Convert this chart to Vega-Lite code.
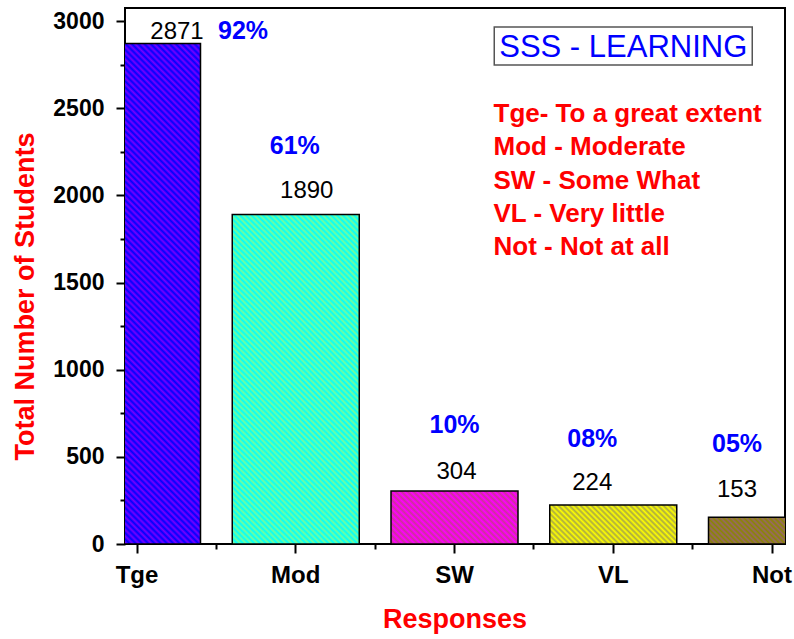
{
  "$schema": "https://vega.github.io/schema/vega-lite/v6.json",
  "width": 660,
  "height": 536,
  "autosize": {"type": "none"},
  "padding": {"left": 125, "top": 8, "right": 9, "bottom": 95},
  "background": "white",
  "config": {
    "view": {"stroke": "black", "strokeWidth": 2},
    "font": "Liberation Sans",
    "axis": {"grid": false}
  },
  "data": {
    "values": [
      {"r": "Tge", "n": 2871, "p": "92%"},
      {"r": "Mod", "n": 1890, "p": "61%"},
      {"r": "SW", "n": 304, "p": "10%"},
      {"r": "VL", "n": 224, "p": "08%"},
      {"r": "Not", "n": 153, "p": "05%"}
    ]
  },
  "resolve": {"axis": {"x": "independent", "y": "independent"}},
  "layer": [
    {
      "transform": [{"filter": "datum.r === 'Tge'"}],
      "mark": {"type": "bar", "clip": true, "stroke": "black", "strokeWidth": 1.5,
        "fill": {"gradient": "linear", "x1": 0, "y1": 1, "x2": 0.299, "y2": -0.178, "stops": [
{"offset":0,"color":"#00f"},{"offset":0.005,"color":"#70f"},{"offset":0.01,"color":"#00f"},{"offset":0.015,"color":"#70f"},{"offset":0.02,"color":"#00f"},{"offset":0.025,"color":"#70f"},{"offset":0.03,"color":"#00f"},{"offset":0.035,"color":"#70f"},{"offset":0.04,"color":"#00f"},{"offset":0.045,"color":"#70f"},{"offset":0.05,"color":"#00f"},{"offset":0.055,"color":"#70f"},{"offset":0.06,"color":"#00f"},{"offset":0.065,"color":"#70f"},{"offset":0.07,"color":"#00f"},{"offset":0.075,"color":"#70f"},{"offset":0.08,"color":"#00f"},{"offset":0.085,"color":"#70f"},{"offset":0.09,"color":"#00f"},{"offset":0.095,"color":"#70f"},
{"offset":0.1,"color":"#00f"},{"offset":0.105,"color":"#70f"},{"offset":0.11,"color":"#00f"},{"offset":0.115,"color":"#70f"},{"offset":0.12,"color":"#00f"},{"offset":0.125,"color":"#70f"},{"offset":0.13,"color":"#00f"},{"offset":0.135,"color":"#70f"},{"offset":0.14,"color":"#00f"},{"offset":0.145,"color":"#70f"},{"offset":0.15,"color":"#00f"},{"offset":0.155,"color":"#70f"},{"offset":0.16,"color":"#00f"},{"offset":0.165,"color":"#70f"},{"offset":0.17,"color":"#00f"},{"offset":0.175,"color":"#70f"},{"offset":0.18,"color":"#00f"},{"offset":0.185,"color":"#70f"},{"offset":0.19,"color":"#00f"},{"offset":0.195,"color":"#70f"},
{"offset":0.2,"color":"#00f"},{"offset":0.205,"color":"#70f"},{"offset":0.21,"color":"#00f"},{"offset":0.215,"color":"#70f"},{"offset":0.22,"color":"#00f"},{"offset":0.225,"color":"#70f"},{"offset":0.23,"color":"#00f"},{"offset":0.235,"color":"#70f"},{"offset":0.24,"color":"#00f"},{"offset":0.245,"color":"#70f"},{"offset":0.25,"color":"#00f"},{"offset":0.255,"color":"#70f"},{"offset":0.26,"color":"#00f"},{"offset":0.265,"color":"#70f"},{"offset":0.27,"color":"#00f"},{"offset":0.275,"color":"#70f"},{"offset":0.28,"color":"#00f"},{"offset":0.285,"color":"#70f"},{"offset":0.29,"color":"#00f"},{"offset":0.295,"color":"#70f"},
{"offset":0.3,"color":"#00f"},{"offset":0.305,"color":"#70f"},{"offset":0.31,"color":"#00f"},{"offset":0.315,"color":"#70f"},{"offset":0.32,"color":"#00f"},{"offset":0.325,"color":"#70f"},{"offset":0.33,"color":"#00f"},{"offset":0.335,"color":"#70f"},{"offset":0.34,"color":"#00f"},{"offset":0.345,"color":"#70f"},{"offset":0.35,"color":"#00f"},{"offset":0.355,"color":"#70f"},{"offset":0.36,"color":"#00f"},{"offset":0.365,"color":"#70f"},{"offset":0.37,"color":"#00f"},{"offset":0.375,"color":"#70f"},{"offset":0.38,"color":"#00f"},{"offset":0.385,"color":"#70f"},{"offset":0.39,"color":"#00f"},{"offset":0.395,"color":"#70f"},
{"offset":0.4,"color":"#00f"},{"offset":0.405,"color":"#70f"},{"offset":0.41,"color":"#00f"},{"offset":0.415,"color":"#70f"},{"offset":0.42,"color":"#00f"},{"offset":0.425,"color":"#70f"},{"offset":0.43,"color":"#00f"},{"offset":0.435,"color":"#70f"},{"offset":0.44,"color":"#00f"},{"offset":0.445,"color":"#70f"},{"offset":0.45,"color":"#00f"},{"offset":0.455,"color":"#70f"},{"offset":0.46,"color":"#00f"},{"offset":0.465,"color":"#70f"},{"offset":0.47,"color":"#00f"},{"offset":0.475,"color":"#70f"},{"offset":0.48,"color":"#00f"},{"offset":0.485,"color":"#70f"},{"offset":0.49,"color":"#00f"},{"offset":0.495,"color":"#70f"},
{"offset":0.5,"color":"#00f"},{"offset":0.505,"color":"#70f"},{"offset":0.51,"color":"#00f"},{"offset":0.515,"color":"#70f"},{"offset":0.52,"color":"#00f"},{"offset":0.525,"color":"#70f"},{"offset":0.53,"color":"#00f"},{"offset":0.535,"color":"#70f"},{"offset":0.54,"color":"#00f"},{"offset":0.545,"color":"#70f"},{"offset":0.55,"color":"#00f"},{"offset":0.555,"color":"#70f"},{"offset":0.56,"color":"#00f"},{"offset":0.565,"color":"#70f"},{"offset":0.57,"color":"#00f"},{"offset":0.575,"color":"#70f"},{"offset":0.58,"color":"#00f"},{"offset":0.585,"color":"#70f"},{"offset":0.59,"color":"#00f"},{"offset":0.595,"color":"#70f"},
{"offset":0.6,"color":"#00f"},{"offset":0.605,"color":"#70f"},{"offset":0.61,"color":"#00f"},{"offset":0.615,"color":"#70f"},{"offset":0.62,"color":"#00f"},{"offset":0.625,"color":"#70f"},{"offset":0.63,"color":"#00f"},{"offset":0.635,"color":"#70f"},{"offset":0.64,"color":"#00f"},{"offset":0.645,"color":"#70f"},{"offset":0.65,"color":"#00f"},{"offset":0.655,"color":"#70f"},{"offset":0.66,"color":"#00f"},{"offset":0.665,"color":"#70f"},{"offset":0.67,"color":"#00f"},{"offset":0.675,"color":"#70f"},{"offset":0.68,"color":"#00f"},{"offset":0.685,"color":"#70f"},{"offset":0.69,"color":"#00f"},{"offset":0.695,"color":"#70f"},
{"offset":0.7,"color":"#00f"},{"offset":0.705,"color":"#70f"},{"offset":0.71,"color":"#00f"},{"offset":0.715,"color":"#70f"},{"offset":0.72,"color":"#00f"},{"offset":0.725,"color":"#70f"},{"offset":0.73,"color":"#00f"},{"offset":0.735,"color":"#70f"},{"offset":0.74,"color":"#00f"},{"offset":0.745,"color":"#70f"},{"offset":0.75,"color":"#00f"},{"offset":0.755,"color":"#70f"},{"offset":0.76,"color":"#00f"},{"offset":0.765,"color":"#70f"},{"offset":0.77,"color":"#00f"},{"offset":0.775,"color":"#70f"},{"offset":0.78,"color":"#00f"},{"offset":0.785,"color":"#70f"},{"offset":0.79,"color":"#00f"},{"offset":0.795,"color":"#70f"},
{"offset":0.8,"color":"#00f"},{"offset":0.805,"color":"#70f"},{"offset":0.81,"color":"#00f"},{"offset":0.815,"color":"#70f"},{"offset":0.82,"color":"#00f"},{"offset":0.825,"color":"#70f"},{"offset":0.83,"color":"#00f"},{"offset":0.835,"color":"#70f"},{"offset":0.84,"color":"#00f"},{"offset":0.845,"color":"#70f"},{"offset":0.85,"color":"#00f"},{"offset":0.855,"color":"#70f"},{"offset":0.86,"color":"#00f"},{"offset":0.865,"color":"#70f"},{"offset":0.87,"color":"#00f"},{"offset":0.875,"color":"#70f"},{"offset":0.88,"color":"#00f"},{"offset":0.885,"color":"#70f"},{"offset":0.89,"color":"#00f"},{"offset":0.895,"color":"#70f"},
{"offset":0.9,"color":"#00f"},{"offset":0.905,"color":"#70f"},{"offset":0.91,"color":"#00f"},{"offset":0.915,"color":"#70f"},{"offset":0.92,"color":"#00f"},{"offset":0.925,"color":"#70f"},{"offset":0.93,"color":"#00f"},{"offset":0.935,"color":"#70f"},{"offset":0.94,"color":"#00f"},{"offset":0.945,"color":"#70f"},{"offset":0.95,"color":"#00f"},{"offset":0.955,"color":"#70f"},{"offset":0.96,"color":"#00f"},{"offset":0.965,"color":"#70f"},{"offset":0.97,"color":"#00f"},{"offset":0.975,"color":"#70f"},{"offset":0.98,"color":"#00f"},{"offset":0.985,"color":"#70f"},{"offset":0.99,"color":"#00f"},{"offset":0.995,"color":"#70f"},
{"offset":1,"color":"#00f"}]}},
      "encoding": {
        "x": {
          "field": "r", "type": "nominal", "sort": null,
          "scale": {"domain": ["Tge", "Mod", "SW", "VL", "Not"], "range": [-51.5, 710.5], "paddingInner": 0.2, "paddingOuter": 0},
          "axis": {
            "domain": false, "labelAngle": 0, "labelFont": "Liberation Sans", "labelFontWeight": "bold", "labelFontSize": 24, "labelColor": "black",
            "tickColor": "black", "tickWidth": 2, "tickSize": 9, "labelPadding": 10, "values": ["Tge", "Mod", "SW", "VL", "Not"],
            "title": "Responses", "titleColor": "#ff0000", "titleFont": "Liberation Sans", "titleFontSize": 27, "titleFontWeight": "bold",
            "titleY": 83, "titleBaseline": "alphabetic"
          }
        },
        "y": {
          "field": "n", "type": "quantitative",
          "scale": {"domain": [0, 3075], "nice": false, "zero": true},
          "axis": {
            "domain": false, "values": [0, 500, 1000, 1500, 2000, 2500, 3000], "format": "d",
            "labelFont": "Liberation Sans", "labelFontWeight": "bold", "labelFontSize": 23, "labelColor": "black",
            "tickColor": "black", "tickWidth": 2, "tickSize": 9, "labelPadding": 12,
            "title": "Total Number of Students", "titleColor": "#ff0000", "titleFont": "Liberation Sans", "titleFontSize": 27, "titleFontWeight": "bold",
            "titleAngle": 270, "titleX": -92, "titleY": 288, "titleBaseline": "alphabetic", "titleAlign": "center"
          }
        }
      }
    },
    {
      "transform": [{"filter": "datum.r === 'Mod'"}],
      "mark": {"type": "bar", "clip": true, "stroke": "black", "strokeWidth": 1.5,
        "fill": {"gradient": "linear", "x1": 0, "y1": 1, "x2": 0.465, "y2": -0.206, "stops": [
{"offset":0,"color":"#0ff"},{"offset":0.00625,"color":"#7f9"},{"offset":0.0125,"color":"#0ff"},{"offset":0.01875,"color":"#7f9"},{"offset":0.025,"color":"#0ff"},{"offset":0.03125,"color":"#7f9"},{"offset":0.0375,"color":"#0ff"},{"offset":0.04375,"color":"#7f9"},{"offset":0.05,"color":"#0ff"},{"offset":0.05625,"color":"#7f9"},{"offset":0.0625,"color":"#0ff"},{"offset":0.06875,"color":"#7f9"},{"offset":0.075,"color":"#0ff"},{"offset":0.08125,"color":"#7f9"},{"offset":0.0875,"color":"#0ff"},{"offset":0.09375,"color":"#7f9"},
{"offset":0.1,"color":"#0ff"},{"offset":0.10625,"color":"#7f9"},{"offset":0.1125,"color":"#0ff"},{"offset":0.11875,"color":"#7f9"},{"offset":0.125,"color":"#0ff"},{"offset":0.13125,"color":"#7f9"},{"offset":0.1375,"color":"#0ff"},{"offset":0.14375,"color":"#7f9"},{"offset":0.15,"color":"#0ff"},{"offset":0.15625,"color":"#7f9"},{"offset":0.1625,"color":"#0ff"},{"offset":0.16875,"color":"#7f9"},{"offset":0.175,"color":"#0ff"},{"offset":0.18125,"color":"#7f9"},{"offset":0.1875,"color":"#0ff"},{"offset":0.19375,"color":"#7f9"},
{"offset":0.2,"color":"#0ff"},{"offset":0.20625,"color":"#7f9"},{"offset":0.2125,"color":"#0ff"},{"offset":0.21875,"color":"#7f9"},{"offset":0.225,"color":"#0ff"},{"offset":0.23125,"color":"#7f9"},{"offset":0.2375,"color":"#0ff"},{"offset":0.24375,"color":"#7f9"},{"offset":0.25,"color":"#0ff"},{"offset":0.25625,"color":"#7f9"},{"offset":0.2625,"color":"#0ff"},{"offset":0.26875,"color":"#7f9"},{"offset":0.275,"color":"#0ff"},{"offset":0.28125,"color":"#7f9"},{"offset":0.2875,"color":"#0ff"},{"offset":0.29375,"color":"#7f9"},
{"offset":0.3,"color":"#0ff"},{"offset":0.30625,"color":"#7f9"},{"offset":0.3125,"color":"#0ff"},{"offset":0.31875,"color":"#7f9"},{"offset":0.325,"color":"#0ff"},{"offset":0.33125,"color":"#7f9"},{"offset":0.3375,"color":"#0ff"},{"offset":0.34375,"color":"#7f9"},{"offset":0.35,"color":"#0ff"},{"offset":0.35625,"color":"#7f9"},{"offset":0.3625,"color":"#0ff"},{"offset":0.36875,"color":"#7f9"},{"offset":0.375,"color":"#0ff"},{"offset":0.38125,"color":"#7f9"},{"offset":0.3875,"color":"#0ff"},{"offset":0.39375,"color":"#7f9"},
{"offset":0.4,"color":"#0ff"},{"offset":0.40625,"color":"#7f9"},{"offset":0.4125,"color":"#0ff"},{"offset":0.41875,"color":"#7f9"},{"offset":0.425,"color":"#0ff"},{"offset":0.43125,"color":"#7f9"},{"offset":0.4375,"color":"#0ff"},{"offset":0.44375,"color":"#7f9"},{"offset":0.45,"color":"#0ff"},{"offset":0.45625,"color":"#7f9"},{"offset":0.4625,"color":"#0ff"},{"offset":0.46875,"color":"#7f9"},{"offset":0.475,"color":"#0ff"},{"offset":0.48125,"color":"#7f9"},{"offset":0.4875,"color":"#0ff"},{"offset":0.49375,"color":"#7f9"},
{"offset":0.5,"color":"#0ff"},{"offset":0.50625,"color":"#7f9"},{"offset":0.5125,"color":"#0ff"},{"offset":0.51875,"color":"#7f9"},{"offset":0.525,"color":"#0ff"},{"offset":0.53125,"color":"#7f9"},{"offset":0.5375,"color":"#0ff"},{"offset":0.54375,"color":"#7f9"},{"offset":0.55,"color":"#0ff"},{"offset":0.55625,"color":"#7f9"},{"offset":0.5625,"color":"#0ff"},{"offset":0.56875,"color":"#7f9"},{"offset":0.575,"color":"#0ff"},{"offset":0.58125,"color":"#7f9"},{"offset":0.5875,"color":"#0ff"},{"offset":0.59375,"color":"#7f9"},
{"offset":0.6,"color":"#0ff"},{"offset":0.60625,"color":"#7f9"},{"offset":0.6125,"color":"#0ff"},{"offset":0.61875,"color":"#7f9"},{"offset":0.625,"color":"#0ff"},{"offset":0.63125,"color":"#7f9"},{"offset":0.6375,"color":"#0ff"},{"offset":0.64375,"color":"#7f9"},{"offset":0.65,"color":"#0ff"},{"offset":0.65625,"color":"#7f9"},{"offset":0.6625,"color":"#0ff"},{"offset":0.66875,"color":"#7f9"},{"offset":0.675,"color":"#0ff"},{"offset":0.68125,"color":"#7f9"},{"offset":0.6875,"color":"#0ff"},{"offset":0.69375,"color":"#7f9"},
{"offset":0.7,"color":"#0ff"},{"offset":0.70625,"color":"#7f9"},{"offset":0.7125,"color":"#0ff"},{"offset":0.71875,"color":"#7f9"},{"offset":0.725,"color":"#0ff"},{"offset":0.73125,"color":"#7f9"},{"offset":0.7375,"color":"#0ff"},{"offset":0.74375,"color":"#7f9"},{"offset":0.75,"color":"#0ff"},{"offset":0.75625,"color":"#7f9"},{"offset":0.7625,"color":"#0ff"},{"offset":0.76875,"color":"#7f9"},{"offset":0.775,"color":"#0ff"},{"offset":0.78125,"color":"#7f9"},{"offset":0.7875,"color":"#0ff"},{"offset":0.79375,"color":"#7f9"},
{"offset":0.8,"color":"#0ff"},{"offset":0.80625,"color":"#7f9"},{"offset":0.8125,"color":"#0ff"},{"offset":0.81875,"color":"#7f9"},{"offset":0.825,"color":"#0ff"},{"offset":0.83125,"color":"#7f9"},{"offset":0.8375,"color":"#0ff"},{"offset":0.84375,"color":"#7f9"},{"offset":0.85,"color":"#0ff"},{"offset":0.85625,"color":"#7f9"},{"offset":0.8625,"color":"#0ff"},{"offset":0.86875,"color":"#7f9"},{"offset":0.875,"color":"#0ff"},{"offset":0.88125,"color":"#7f9"},{"offset":0.8875,"color":"#0ff"},{"offset":0.89375,"color":"#7f9"},
{"offset":0.9,"color":"#0ff"},{"offset":0.90625,"color":"#7f9"},{"offset":0.9125,"color":"#0ff"},{"offset":0.91875,"color":"#7f9"},{"offset":0.925,"color":"#0ff"},{"offset":0.93125,"color":"#7f9"},{"offset":0.9375,"color":"#0ff"},{"offset":0.94375,"color":"#7f9"},{"offset":0.95,"color":"#0ff"},{"offset":0.95625,"color":"#7f9"},{"offset":0.9625,"color":"#0ff"},{"offset":0.96875,"color":"#7f9"},{"offset":0.975,"color":"#0ff"},{"offset":0.98125,"color":"#7f9"},{"offset":0.9875,"color":"#0ff"},{"offset":0.99375,"color":"#7f9"},
{"offset":1,"color":"#0ff"}]}},
      "encoding": {"x": {"field": "r", "type": "nominal", "axis": null}, "y": {"field": "n", "type": "quantitative", "axis": null}}
    },
    {
      "transform": [{"filter": "datum.r === 'SW'"}],
      "mark": {"type": "bar", "clip": true, "stroke": "black", "strokeWidth": 1.5,
        "fill": {"gradient": "linear", "x1": 0, "y1": 1, "x2": 1.207, "y2": 0.496, "stops": [
{"offset":0,"color":"#f0f"},{"offset":0.0167,"color":"#c39"},{"offset":0.0333,"color":"#f0f"},{"offset":0.05,"color":"#c39"},{"offset":0.0667,"color":"#f0f"},{"offset":0.0833,"color":"#c39"},
{"offset":0.1,"color":"#f0f"},{"offset":0.1167,"color":"#c39"},{"offset":0.1333,"color":"#f0f"},{"offset":0.15,"color":"#c39"},{"offset":0.1667,"color":"#f0f"},{"offset":0.1833,"color":"#c39"},
{"offset":0.2,"color":"#f0f"},{"offset":0.2167,"color":"#c39"},{"offset":0.2333,"color":"#f0f"},{"offset":0.25,"color":"#c39"},{"offset":0.2667,"color":"#f0f"},{"offset":0.2833,"color":"#c39"},
{"offset":0.3,"color":"#f0f"},{"offset":0.3167,"color":"#c39"},{"offset":0.3333,"color":"#f0f"},{"offset":0.35,"color":"#c39"},{"offset":0.3667,"color":"#f0f"},{"offset":0.3833,"color":"#c39"},
{"offset":0.4,"color":"#f0f"},{"offset":0.4167,"color":"#c39"},{"offset":0.4333,"color":"#f0f"},{"offset":0.45,"color":"#c39"},{"offset":0.4667,"color":"#f0f"},{"offset":0.4833,"color":"#c39"},
{"offset":0.5,"color":"#f0f"},{"offset":0.5167,"color":"#c39"},{"offset":0.5333,"color":"#f0f"},{"offset":0.55,"color":"#c39"},{"offset":0.5667,"color":"#f0f"},{"offset":0.5833,"color":"#c39"},
{"offset":0.6,"color":"#f0f"},{"offset":0.6167,"color":"#c39"},{"offset":0.6333,"color":"#f0f"},{"offset":0.65,"color":"#c39"},{"offset":0.6667,"color":"#f0f"},{"offset":0.6833,"color":"#c39"},
{"offset":0.7,"color":"#f0f"},{"offset":0.7167,"color":"#c39"},{"offset":0.7333,"color":"#f0f"},{"offset":0.75,"color":"#c39"},{"offset":0.7667,"color":"#f0f"},{"offset":0.7833,"color":"#c39"},
{"offset":0.8,"color":"#f0f"},{"offset":0.8167,"color":"#c39"},{"offset":0.8333,"color":"#f0f"},{"offset":0.85,"color":"#c39"},{"offset":0.8667,"color":"#f0f"},{"offset":0.8833,"color":"#c39"},
{"offset":0.9,"color":"#f0f"},{"offset":0.9167,"color":"#c39"},{"offset":0.9333,"color":"#f0f"},{"offset":0.95,"color":"#c39"},{"offset":0.9667,"color":"#f0f"},{"offset":0.9833,"color":"#c39"},
{"offset":1,"color":"#f0f"}]}},
      "encoding": {"x": {"field": "r", "type": "nominal", "axis": null}, "y": {"field": "n", "type": "quantitative", "axis": null}}
    },
    {
      "transform": [{"filter": "datum.r === 'VL'"}],
      "mark": {"type": "bar", "clip": true, "stroke": "black", "strokeWidth": 1.5,
        "fill": {"gradient": "linear", "x1": 0, "y1": 1, "x2": 1.194, "y2": 0.633, "stops": [
{"offset":0,"color":"#ff0"},{"offset":0.0167,"color":"#aa4"},{"offset":0.0333,"color":"#ff0"},{"offset":0.05,"color":"#aa4"},{"offset":0.0667,"color":"#ff0"},{"offset":0.0833,"color":"#aa4"},
{"offset":0.1,"color":"#ff0"},{"offset":0.1167,"color":"#aa4"},{"offset":0.1333,"color":"#ff0"},{"offset":0.15,"color":"#aa4"},{"offset":0.1667,"color":"#ff0"},{"offset":0.1833,"color":"#aa4"},
{"offset":0.2,"color":"#ff0"},{"offset":0.2167,"color":"#aa4"},{"offset":0.2333,"color":"#ff0"},{"offset":0.25,"color":"#aa4"},{"offset":0.2667,"color":"#ff0"},{"offset":0.2833,"color":"#aa4"},
{"offset":0.3,"color":"#ff0"},{"offset":0.3167,"color":"#aa4"},{"offset":0.3333,"color":"#ff0"},{"offset":0.35,"color":"#aa4"},{"offset":0.3667,"color":"#ff0"},{"offset":0.3833,"color":"#aa4"},
{"offset":0.4,"color":"#ff0"},{"offset":0.4167,"color":"#aa4"},{"offset":0.4333,"color":"#ff0"},{"offset":0.45,"color":"#aa4"},{"offset":0.4667,"color":"#ff0"},{"offset":0.4833,"color":"#aa4"},
{"offset":0.5,"color":"#ff0"},{"offset":0.5167,"color":"#aa4"},{"offset":0.5333,"color":"#ff0"},{"offset":0.55,"color":"#aa4"},{"offset":0.5667,"color":"#ff0"},{"offset":0.5833,"color":"#aa4"},
{"offset":0.6,"color":"#ff0"},{"offset":0.6167,"color":"#aa4"},{"offset":0.6333,"color":"#ff0"},{"offset":0.65,"color":"#aa4"},{"offset":0.6667,"color":"#ff0"},{"offset":0.6833,"color":"#aa4"},
{"offset":0.7,"color":"#ff0"},{"offset":0.7167,"color":"#aa4"},{"offset":0.7333,"color":"#ff0"},{"offset":0.75,"color":"#aa4"},{"offset":0.7667,"color":"#ff0"},{"offset":0.7833,"color":"#aa4"},
{"offset":0.8,"color":"#ff0"},{"offset":0.8167,"color":"#aa4"},{"offset":0.8333,"color":"#ff0"},{"offset":0.85,"color":"#aa4"},{"offset":0.8667,"color":"#ff0"},{"offset":0.8833,"color":"#aa4"},
{"offset":0.9,"color":"#ff0"},{"offset":0.9167,"color":"#aa4"},{"offset":0.9333,"color":"#ff0"},{"offset":0.95,"color":"#aa4"},{"offset":0.9667,"color":"#ff0"},{"offset":0.9833,"color":"#aa4"},
{"offset":1,"color":"#ff0"}]}},
      "encoding": {"x": {"field": "r", "type": "nominal", "axis": null}, "y": {"field": "n", "type": "quantitative", "axis": null}}
    },
    {
      "transform": [{"filter": "datum.r === 'Not'"}],
      "mark": {"type": "bar", "clip": true, "stroke": "black", "strokeWidth": 1.5,
        "fill": {"gradient": "linear", "x1": 0, "y1": 1, "x2": 1.159, "y2": 0.756, "stops": [
{"offset":0,"color":"#880"},{"offset":0.0167,"color":"#966"},{"offset":0.0333,"color":"#880"},{"offset":0.05,"color":"#966"},{"offset":0.0667,"color":"#880"},{"offset":0.0833,"color":"#966"},
{"offset":0.1,"color":"#880"},{"offset":0.1167,"color":"#966"},{"offset":0.1333,"color":"#880"},{"offset":0.15,"color":"#966"},{"offset":0.1667,"color":"#880"},{"offset":0.1833,"color":"#966"},
{"offset":0.2,"color":"#880"},{"offset":0.2167,"color":"#966"},{"offset":0.2333,"color":"#880"},{"offset":0.25,"color":"#966"},{"offset":0.2667,"color":"#880"},{"offset":0.2833,"color":"#966"},
{"offset":0.3,"color":"#880"},{"offset":0.3167,"color":"#966"},{"offset":0.3333,"color":"#880"},{"offset":0.35,"color":"#966"},{"offset":0.3667,"color":"#880"},{"offset":0.3833,"color":"#966"},
{"offset":0.4,"color":"#880"},{"offset":0.4167,"color":"#966"},{"offset":0.4333,"color":"#880"},{"offset":0.45,"color":"#966"},{"offset":0.4667,"color":"#880"},{"offset":0.4833,"color":"#966"},
{"offset":0.5,"color":"#880"},{"offset":0.5167,"color":"#966"},{"offset":0.5333,"color":"#880"},{"offset":0.55,"color":"#966"},{"offset":0.5667,"color":"#880"},{"offset":0.5833,"color":"#966"},
{"offset":0.6,"color":"#880"},{"offset":0.6167,"color":"#966"},{"offset":0.6333,"color":"#880"},{"offset":0.65,"color":"#966"},{"offset":0.6667,"color":"#880"},{"offset":0.6833,"color":"#966"},
{"offset":0.7,"color":"#880"},{"offset":0.7167,"color":"#966"},{"offset":0.7333,"color":"#880"},{"offset":0.75,"color":"#966"},{"offset":0.7667,"color":"#880"},{"offset":0.7833,"color":"#966"},
{"offset":0.8,"color":"#880"},{"offset":0.8167,"color":"#966"},{"offset":0.8333,"color":"#880"},{"offset":0.85,"color":"#966"},{"offset":0.8667,"color":"#880"},{"offset":0.8833,"color":"#966"},
{"offset":0.9,"color":"#880"},{"offset":0.9167,"color":"#966"},{"offset":0.9333,"color":"#880"},{"offset":0.95,"color":"#966"},{"offset":0.9667,"color":"#880"},{"offset":0.9833,"color":"#966"},
{"offset":1,"color":"#880"}]}},
      "encoding": {"x": {"field": "r", "type": "nominal", "axis": null}, "y": {"field": "n", "type": "quantitative", "axis": null}}
    },
    {
      "mark": {"type": "text", "text": ""},
      "encoding": {
        "x": {"field": "r", "type": "nominal", "axis": {"orient": "bottom", "domain": false, "labels": false, "title": null, "values": ["Mod", "SW", "VL", "Not"], "bandPosition": -0.125, "tickColor": "black", "tickWidth": 2, "tickSize": 5}},
        "y": {"field": "n", "type": "quantitative", "axis": {"orient": "left", "domain": false, "labels": false, "title": null, "values": [250, 750, 1250, 1750, 2250, 2750], "tickColor": "black", "tickWidth": 2, "tickSize": 5}}
      }
    },
    {
      "transform": [{"filter": "datum.r === 'Tge'"}],
      "layer": [
        {"mark": {"type": "text", "dx": 40, "dy": -5, "fontSize": 24, "color": "black", "baseline": "alphabetic"}, "encoding": {"text": {"field": "n", "type": "quantitative", "format": "d"}}},
        {"mark": {"type": "text", "dx": 106, "dy": -5, "fontSize": 25, "fontWeight": "bold", "color": "#0000ff", "baseline": "alphabetic"}, "encoding": {"text": {"field": "p"}}}
      ],
      "encoding": {"x": {"field": "r", "type": "nominal", "axis": null}, "y": {"field": "n", "type": "quantitative", "axis": null}}
    },
    {
      "transform": [{"filter": "datum.r === 'Mod'"}],
      "layer": [
        {"mark": {"type": "text", "dx": 11, "dy": -17, "fontSize": 24, "color": "black", "baseline": "alphabetic"}, "encoding": {"text": {"field": "n", "type": "quantitative", "format": "d"}}},
        {"mark": {"type": "text", "dx": -1, "dy": -61, "fontSize": 25, "fontWeight": "bold", "color": "#0000ff", "baseline": "alphabetic"}, "encoding": {"text": {"field": "p"}}}
      ],
      "encoding": {"x": {"field": "r", "type": "nominal", "axis": null}, "y": {"field": "n", "type": "quantitative", "axis": null}}
    },
    {
      "transform": [{"filter": "datum.r === 'SW'"}],
      "layer": [
        {"mark": {"type": "text", "dx": 2, "dy": -12, "fontSize": 24, "color": "black", "baseline": "alphabetic"}, "encoding": {"text": {"field": "n", "type": "quantitative", "format": "d"}}},
        {"mark": {"type": "text", "dx": 0, "dy": -58, "fontSize": 25, "fontWeight": "bold", "color": "#0000ff", "baseline": "alphabetic"}, "encoding": {"text": {"field": "p"}}}
      ],
      "encoding": {"x": {"field": "r", "type": "nominal", "axis": null}, "y": {"field": "n", "type": "quantitative", "axis": null}}
    },
    {
      "transform": [{"filter": "datum.r === 'VL'"}],
      "layer": [
        {"mark": {"type": "text", "dx": -21, "dy": -15, "fontSize": 24, "color": "black", "baseline": "alphabetic"}, "encoding": {"text": {"field": "n", "type": "quantitative", "format": "d"}}},
        {"mark": {"type": "text", "dx": -21, "dy": -58, "fontSize": 25, "fontWeight": "bold", "color": "#0000ff", "baseline": "alphabetic"}, "encoding": {"text": {"field": "p"}}}
      ],
      "encoding": {"x": {"field": "r", "type": "nominal", "axis": null}, "y": {"field": "n", "type": "quantitative", "axis": null}}
    },
    {
      "transform": [{"filter": "datum.r === 'Not'"}],
      "layer": [
        {"mark": {"type": "text", "dx": -35, "dy": -20, "fontSize": 24, "color": "black", "baseline": "alphabetic"}, "encoding": {"text": {"field": "n", "type": "quantitative", "format": "d"}}},
        {"mark": {"type": "text", "dx": -35, "dy": -65, "fontSize": 25, "fontWeight": "bold", "color": "#0000ff", "baseline": "alphabetic"}, "encoding": {"text": {"field": "p"}}}
      ],
      "encoding": {"x": {"field": "r", "type": "nominal", "axis": null}, "y": {"field": "n", "type": "quantitative", "axis": null}}
    },
    {
      "data": {"values": [{"t": "SSS - LEARNING"}]},
      "layer": [
        {
          "mark": {"type": "bar", "width": 258, "xOffset": 10, "fill": "transparent", "stroke": "#555555", "strokeWidth": 1.5},
          "encoding": {"x": {"datum": "VL", "type": "nominal", "axis": null}, "y": {"datum": 2966, "type": "quantitative", "axis": null}, "y2": {"datum": 2748}}
        },
        {
          "mark": {"type": "text", "dx": 10, "fontSize": 31, "color": "#0000ff", "align": "center", "baseline": "alphabetic"},
          "encoding": {"x": {"datum": "VL", "type": "nominal", "axis": null}, "y": {"datum": 2794, "type": "quantitative", "axis": null}, "text": {"field": "t"}}
        },
        {
          "mark": {"type": "text", "dx": 39, "fontSize": 26, "fontWeight": "bold", "color": "#ff0000", "align": "left", "baseline": "alphabetic", "lineHeight": 33.3},
          "encoding": {
            "x": {"datum": "SW", "type": "nominal", "axis": null},
            "y": {"datum": 2421, "type": "quantitative", "axis": null},
            "text": {"value": ["Tge- To a great extent", "Mod - Moderate", "SW - Some What", "VL - Very little", "Not - Not at all"]}
          }
        }
      ]
    }
  ]
}
